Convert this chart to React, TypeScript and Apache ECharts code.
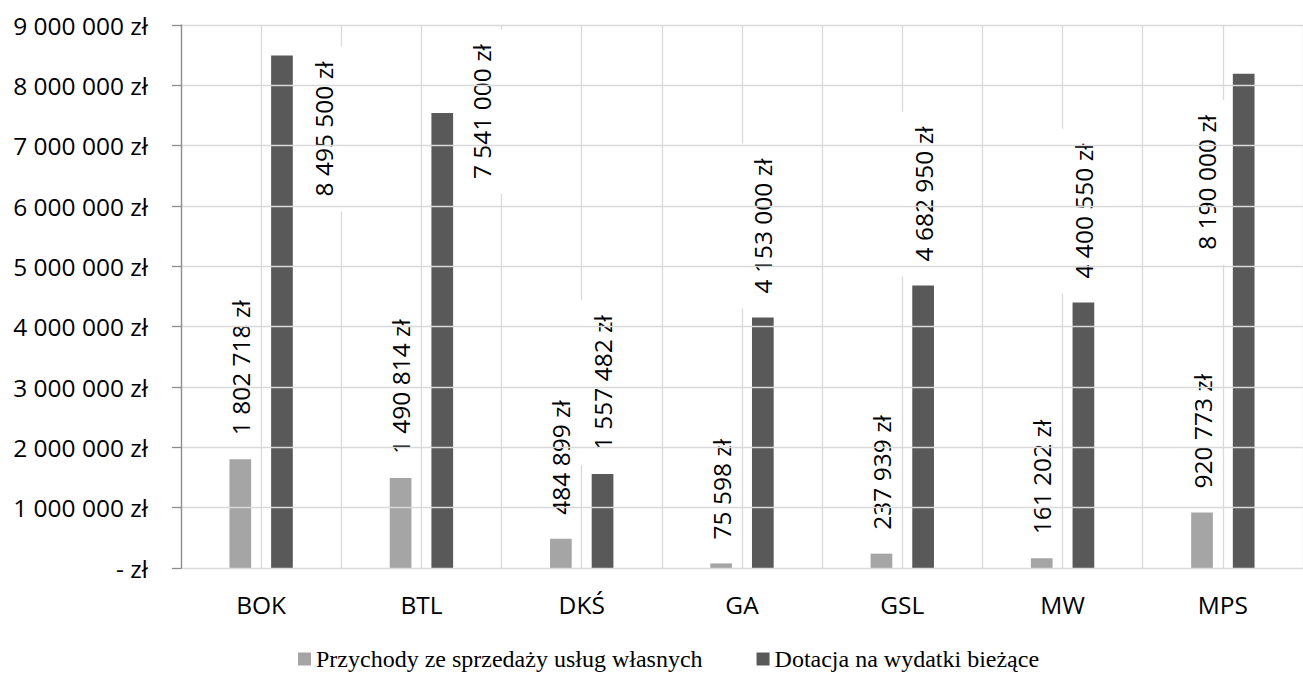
import React, { useEffect, useRef } from "react";
import * as echarts from "echarts";

const categories = ["BOK", "BTL", "DKŚ", "GA", "GSL", "MW", "MPS"];
const seriesNames = ["Przychody ze sprzedaży usług własnych", "Dotacja na wydatki bieżące"];
const przychody = [1802718, 1490814, 484899, 75598, 237939, 161202, 920773];
const dotacja = [8495500, 7541000, 1557482, 4153000, 4682950, 4400550, 8190000];
const yTicks = { min: 0, max: 9000000, interval: 1000000 };

// screen-space label shifts [right, down] for some dark-bar labels (style only)
const dotacjaLabelShift: ([number, number] | null)[] = [
  [42, 165],
  [39, 90],
  null,
  null,
  null,
  null,
  [-37, 200],
];

const fmt = (v: number) =>
  v === 0 ? "- zł" : String(Math.round(v)).replace(/\B(?=(\d{3})+(?!\d))/g, " ") + " zł";

const FONT = "Open Sans";
const FS = 24.5;

export default function App() {
  const ref = useRef<HTMLDivElement>(null);
  useEffect(() => {
    if (!ref.current) return;
    const chart = echarts.init(ref.current, undefined, { renderer: "svg" });
    const labelBase = {
      show: true,
      position: "top" as const,
      distance: 9,
      rotate: 90,
      align: "left" as const,
      verticalAlign: "middle" as const,
      padding: [11, 15, 11, 15],
      fontFamily: FONT,
      fontSize: FS,
      color: "#000000",
      formatter: (p: any) => fmt(p.value),
    };
    const halfBins = categories.flatMap((c) => [c + "a", c + "b"]);
    chart.setOption({
      animation: false,
      backgroundColor: "#ffffff",
      grid: { left: 181, right: -7, top: 25, bottom: 105, containLabel: false },
      legend: {
        left: 298,
        top: 647,
        padding: 0,
        itemWidth: 13,
        itemHeight: 13,
        itemGap: 54,
        icon: "rect",
        textStyle: {
          fontFamily: "Liberation Serif",
          fontSize: 24,
          color: "#000000",
        },
        data: seriesNames,
      },
      xAxis: [
        {
          type: "category",
          data: categories,
          axisLine: { show: true, lineStyle: { color: "#d9d9d9", width: 1 } },
          axisTick: { show: false },
          splitLine: { show: false },
          axisLabel: { fontFamily: FONT, fontSize: FS, color: "#000000", margin: 24 },
        },
        {
          type: "category",
          data: halfBins,
          position: "top",
          axisLine: { show: false },
          axisTick: { show: false },
          axisLabel: { show: false },
          splitLine: { show: true, lineStyle: { color: "#d9d9d9", width: 1.3 } },
        },
      ],
      yAxis: {
        type: "value",
        min: yTicks.min,
        max: yTicks.max,
        interval: yTicks.interval,
        z: 5,
        axisLine: { show: true, lineStyle: { color: "#8c8c8c", width: 1.3 } },
        axisTick: { show: true, length: 9, inside: false, lineStyle: { color: "#8c8c8c", width: 1.3 } },
        splitLine: { show: true, lineStyle: { color: "#d9d9d9", width: 1.3 } },
        axisLabel: { fontFamily: FONT, fontSize: FS, color: "#000000", margin: 33, formatter: fmt },
      },
      series: [
        {
          name: seriesNames[0],
          type: "bar",
          xAxisIndex: 0,
          data: przychody,
          barWidth: 21.7,
          barGap: "92%",
          itemStyle: { color: "#a5a5a5" },
          label: { ...labelBase },
        },
        {
          name: seriesNames[1],
          type: "bar",
          xAxisIndex: 0,
          data: dotacja.map((v, i) => {
            const s = dotacjaLabelShift[i];
            // label is rotated 90°, so its offset is given in the rotated frame
            return s ? { value: v, label: { offset: [-s[1], s[0]] } } : v;
          }),
          barWidth: 21.7,
          barGap: "92%",
          itemStyle: { color: "#595959" },
          label: { ...labelBase, backgroundColor: "#ffffff" },
        },
      ],
    });
    return () => chart.dispose();
  }, []);
  return (
    <div
      ref={ref}
      style={{ position: "absolute", left: 0, top: 0, width: 1303, height: 673 }}
    />
  );
}
